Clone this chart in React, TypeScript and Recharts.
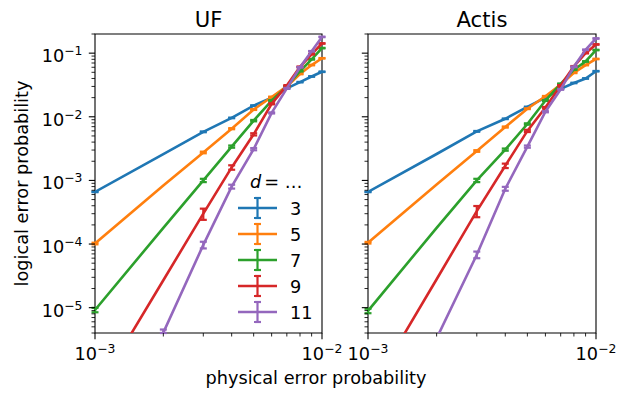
import React from 'react';
import { LineChart, Line, XAxis, YAxis, ErrorBar, ReferenceArea } from 'recharts';

// physical error probabilities (x)
const P = [0.001, 0.002, 0.003, 0.004, 0.005, 0.006, 0.007, 0.008, 0.009, 0.01];
const DISTANCES = [3, 5, 7, 9, 11];
const COLORS = ['#1f77b4', '#ff7f0e', '#2ca02c', '#d62728', '#9467bd'];

// UF decoder – logical error probability per distance
const UF_D3 = [6.6e-4, 2.6e-3, 5.8e-3, 9.6e-3, 1.5e-2, 2.0e-2, 2.8e-2, 3.5e-2, 4.3e-2, 5.1e-2];
const UF_D5 = [1.02e-4, 8.3e-4, 2.75e-3, 6.5e-3, 1.3e-2, 2.05e-2, 3.0e-2, 4.7e-2, 6.5e-2, 8.3e-2];
const UF_D7 = [9.2e-6, 1.8e-4, 1.0e-3, 3.4e-3, 8.7e-3, 1.8e-2, 3.0e-2, 5.2e-2, 8.0e-2, 1.2e-1];
const UF_D9 = [4.4e-7, 2.7e-5, 3.0e-4, 1.6e-3, 5.3e-3, 1.6e-2, 3.1e-2, 6.1e-2, 9.6e-2, 1.42e-1];
const UF_D11 = [2.5e-8, 4.05e-6, 9.7e-5, 8.0e-4, 3.1e-3, 1.15e-2, 2.8e-2, 6.0e-2, 1.07e-1, 1.8e-1];

// Actis decoder
const ACTIS_D3 = [6.6e-4, 2.6e-3, 5.9e-3, 9.3e-3, 1.43e-2, 2.0e-2, 2.75e-2, 3.4e-2, 4.0e-2, 5.2e-2];
const ACTIS_D5 = [1.05e-4, 8.6e-4, 2.9e-3, 6.9e-3, 1.34e-2, 2.1e-2, 3.2e-2, 4.9e-2, 6.5e-2, 8.1e-2];
const ACTIS_D7 = [8.9e-6, 1.8e-4, 1.0e-3, 3.05e-3, 7.7e-3, 1.8e-2, 3.3e-2, 5.5e-2, 7.4e-2, 1.12e-1];
const ACTIS_D9 = [4.2e-7, 2.8e-5, 3.3e-4, 1.7e-3, 6.0e-3, 1.4e-2, 3.1e-2, 6.2e-2, 1.0e-1, 1.37e-1];
const ACTIS_D11 = [2.4e-8, 3.3e-6, 6.8e-5, 7.4e-4, 3.4e-3, 1.2e-2, 2.7e-2, 6.1e-2, 1.13e-1, 1.7e-1];

// relative error bar half-widths per distance (null: no visible error bar)
const REL_ERR_D3 = [0.01, null, 0.015, 0.012, 0.01, 0.01, 0.01, 0.01, 0.01, 0.01];
const REL_ERR_D5 = [0.03, null, 0.03, 0.02, 0.015, 0.012, 0.01, 0.01, 0.01, 0.01];
const REL_ERR_D7 = [0.08, null, 0.06, 0.04, 0.025, 0.015, 0.012, 0.01, 0.01, 0.01];
const REL_ERR_D9 = [null, null, 0.2, 0.08, 0.04, 0.02, 0.015, 0.012, 0.01, 0.01];
const REL_ERR_D11 = [null, 0.12, 0.12, 0.07, 0.04, 0.02, 0.015, 0.012, 0.01, 0.01];

const X_TICKS = [0.001, 0.002, 0.003, 0.004, 0.005, 0.006, 0.007, 0.008, 0.009, 0.01];
const Y_TICKS = [
  4e-6, 5e-6, 6e-6, 7e-6, 8e-6, 9e-6,
  1e-5, 2e-5, 3e-5, 4e-5, 5e-5, 6e-5, 7e-5, 8e-5, 9e-5,
  1e-4, 2e-4, 3e-4, 4e-4, 5e-4, 6e-4, 7e-4, 8e-4, 9e-4,
  1e-3, 2e-3, 3e-3, 4e-3, 5e-3, 6e-3, 7e-3, 8e-3, 9e-3,
  1e-2, 2e-2, 3e-2, 4e-2, 5e-2, 6e-2, 7e-2, 8e-2, 9e-2,
  1e-1, 2e-1,
];
const X_DOMAIN = [0.001, 0.01];
const Y_DOMAIN = [4e-6, 0.2];

const PANEL_TITLES = ['UF', 'Actis'];
const X_LABEL = 'physical error probability';
const Y_LABEL = 'logical error probability';
const LEGEND_TITLE = '= \u2026';

const REL_ERRS = [REL_ERR_D3, REL_ERR_D5, REL_ERR_D7, REL_ERR_D9, REL_ERR_D11];
const UF_SERIES = [UF_D3, UF_D5, UF_D7, UF_D9, UF_D11];
const ACTIS_SERIES = [ACTIS_D3, ACTIS_D5, ACTIS_D7, ACTIS_D9, ACTIS_D11];

function buildRows(series: number[][]) {
  return P.map((p, i) => {
    const row: Record<string, any> = { p };
    DISTANCES.forEach((d, j) => {
      const v = series[j][i];
      const r = REL_ERRS[j][i];
      row['d' + d] = v;
      if (r == null || v < Y_DOMAIN[0]) {
        row['e' + d] = null;
      } else {
        const e = v * r;
        // keep error bars inside the plotting window (matplotlib clips them)
        row['e' + d] = [Math.min(e, v - Y_DOMAIN[0]), Math.min(e, Y_DOMAIN[1] - v)];
      }
    });
    return row;
  });
}

const FONT = 'DejaVu Sans';
const FS = 17.7;
const FS_SUP = 12.4;

const isMajor = (v: number) => Math.abs(Math.log10(v) - Math.round(Math.log10(v))) < 1e-6;
const expLabel = (v: number) => {
  const e = Math.round(Math.log10(v));
  return e < 0 ? '\u2212' + Math.abs(e) : String(e);
};

function YTick(props: any) {
  const { x, y, payload, showLabel } = props;
  const v = payload.value;
  const major = isMajor(v);
  return (
    <g>
      <line x1={x} x2={x - (major ? 6.2 : 3.5)} y1={y} y2={y} stroke="#000" strokeWidth={major ? 1.1 : 0.85} />
      {major && showLabel && (
        <text x={x - 12.5} y={y + 9} textAnchor="end" fontSize={FS} fontFamily={FONT} fill="#000">
          10<tspan dy={-7} fontSize={FS_SUP}>{expLabel(v)}</tspan>
        </text>
      )}
    </g>
  );
}

function XTick(props: any) {
  const { x, y, payload } = props;
  const v = payload.value;
  const major = isMajor(v);
  return (
    <g>
      <line x1={x} x2={x} y1={y} y2={y + (major ? 6.2 : 3.5)} stroke="#000" strokeWidth={major ? 1.1 : 0.85} />
      {major && (
        <text x={x} y={y + 27} textAnchor="middle" fontSize={FS} fontFamily={FONT} fill="#000">
          10<tspan dy={-7} fontSize={FS_SUP}>{expLabel(v)}</tspan>
        </text>
      )}
    </g>
  );
}

function Panel(props: { series: number[][]; showYLabels: boolean; width: number; margin: any; yAxisWidth: number }) {
  const data = buildRows(props.series);
  return (
    <LineChart width={props.width} height={394} data={data} margin={props.margin}>
      <XAxis
        dataKey="p"
        type="number"
        scale="log"
        domain={X_DOMAIN}
        allowDataOverflow
        ticks={X_TICKS}
        interval={0}
        axisLine={false}
        tickLine={false}
        tickSize={0}
        tickMargin={0}
        height={30}
        tick={(p: any) => <XTick {...p} />}
      />
      <YAxis
        type="number"
        scale="log"
        domain={Y_DOMAIN}
        allowDataOverflow
        ticks={Y_TICKS}
        interval={0}
        axisLine={false}
        tickLine={false}
        tickSize={0}
        tickMargin={0}
        width={props.yAxisWidth}
        tick={(p: any) => <YTick {...p} showLabel={props.showYLabels} />}
      />
      {DISTANCES.map((d, i) => (
        <Line
          key={d}
          dataKey={'d' + d}
          type="linear"
          stroke={COLORS[i]}
          strokeWidth={2.6}
          dot={false}
          activeDot={false}
          isAnimationActive={false}
        >
          <ErrorBar dataKey={'e' + d} direction="y" width={3.5} stroke={COLORS[i]} strokeWidth={2.2} />
        </Line>
      ))}
      <ReferenceArea
        x1={X_DOMAIN[0]}
        x2={X_DOMAIN[1]}
        y1={Y_DOMAIN[0]}
        y2={Y_DOMAIN[1]}
        fill="none"
        fillOpacity={0}
        stroke="#000"
        strokeWidth={1.1}
      />
    </LineChart>
  );
}

function Overlay() {
  return (
    <svg width={630} height={394} style={{ position: 'absolute', left: 0, top: 0, pointerEvents: 'none' }}>
      <text x={208.5} y={26.5} textAnchor="middle" fontSize={21.2} fontFamily={FONT} fill="#000">{PANEL_TITLES[0]}</text>
      <text x={482} y={26.5} textAnchor="middle" fontSize={21.2} fontFamily={FONT} fill="#000">{PANEL_TITLES[1]}</text>
      <text x={316} y={384} textAnchor="middle" fontSize={FS} fontFamily={FONT} fill="#000">{X_LABEL}</text>
      <text transform="translate(28,183.5) rotate(-90)" textAnchor="middle" fontSize={FS} fontFamily={FONT} fill="#000">{Y_LABEL}</text>
      <text x={250} y={188} fontSize={FS} fontFamily={FONT} fill="#000">
        <tspan fontStyle="italic">d</tspan>
        <tspan dx={3}>{LEGEND_TITLE}</tspan>
      </text>
      {DISTANCES.map((d, i) => {
        const y = 208 + i * 26;
        return (
          <g key={d}>
            <line x1={238} x2={277} y1={y} y2={y} stroke={COLORS[i]} strokeWidth={2.6} />
            <line x1={257.5} x2={257.5} y1={y - 10} y2={y + 10} stroke={COLORS[i]} strokeWidth={2.2} />
            <line x1={254} x2={261} y1={y - 10} y2={y - 10} stroke={COLORS[i]} strokeWidth={2.2} />
            <line x1={254} x2={261} y1={y + 10} y2={y + 10} stroke={COLORS[i]} strokeWidth={2.2} />
            <text x={290} y={y + 6.5} fontSize={FS} fontFamily={FONT} fill="#000">{d}</text>
          </g>
        );
      })}
    </svg>
  );
}

export default function App() {
  return (
    <div style={{ position: 'absolute', left: 0, top: 0, width: 630, height: 394, background: '#fff', fontFamily: FONT }}>
      <div style={{ position: 'absolute', left: 0, top: 0 }}>
        <Panel series={UF_SERIES} showYLabels width={345} yAxisWidth={60} margin={{ top: 34, right: 23, bottom: 31, left: 35 }} />
      </div>
      <div style={{ position: 'absolute', left: 345, top: 0 }}>
        <Panel series={ACTIS_SERIES} showYLabels={false} width={285} yAxisWidth={20} margin={{ top: 34, right: 34, bottom: 31, left: 3 }} />
      </div>
      <Overlay />
    </div>
  );
}
